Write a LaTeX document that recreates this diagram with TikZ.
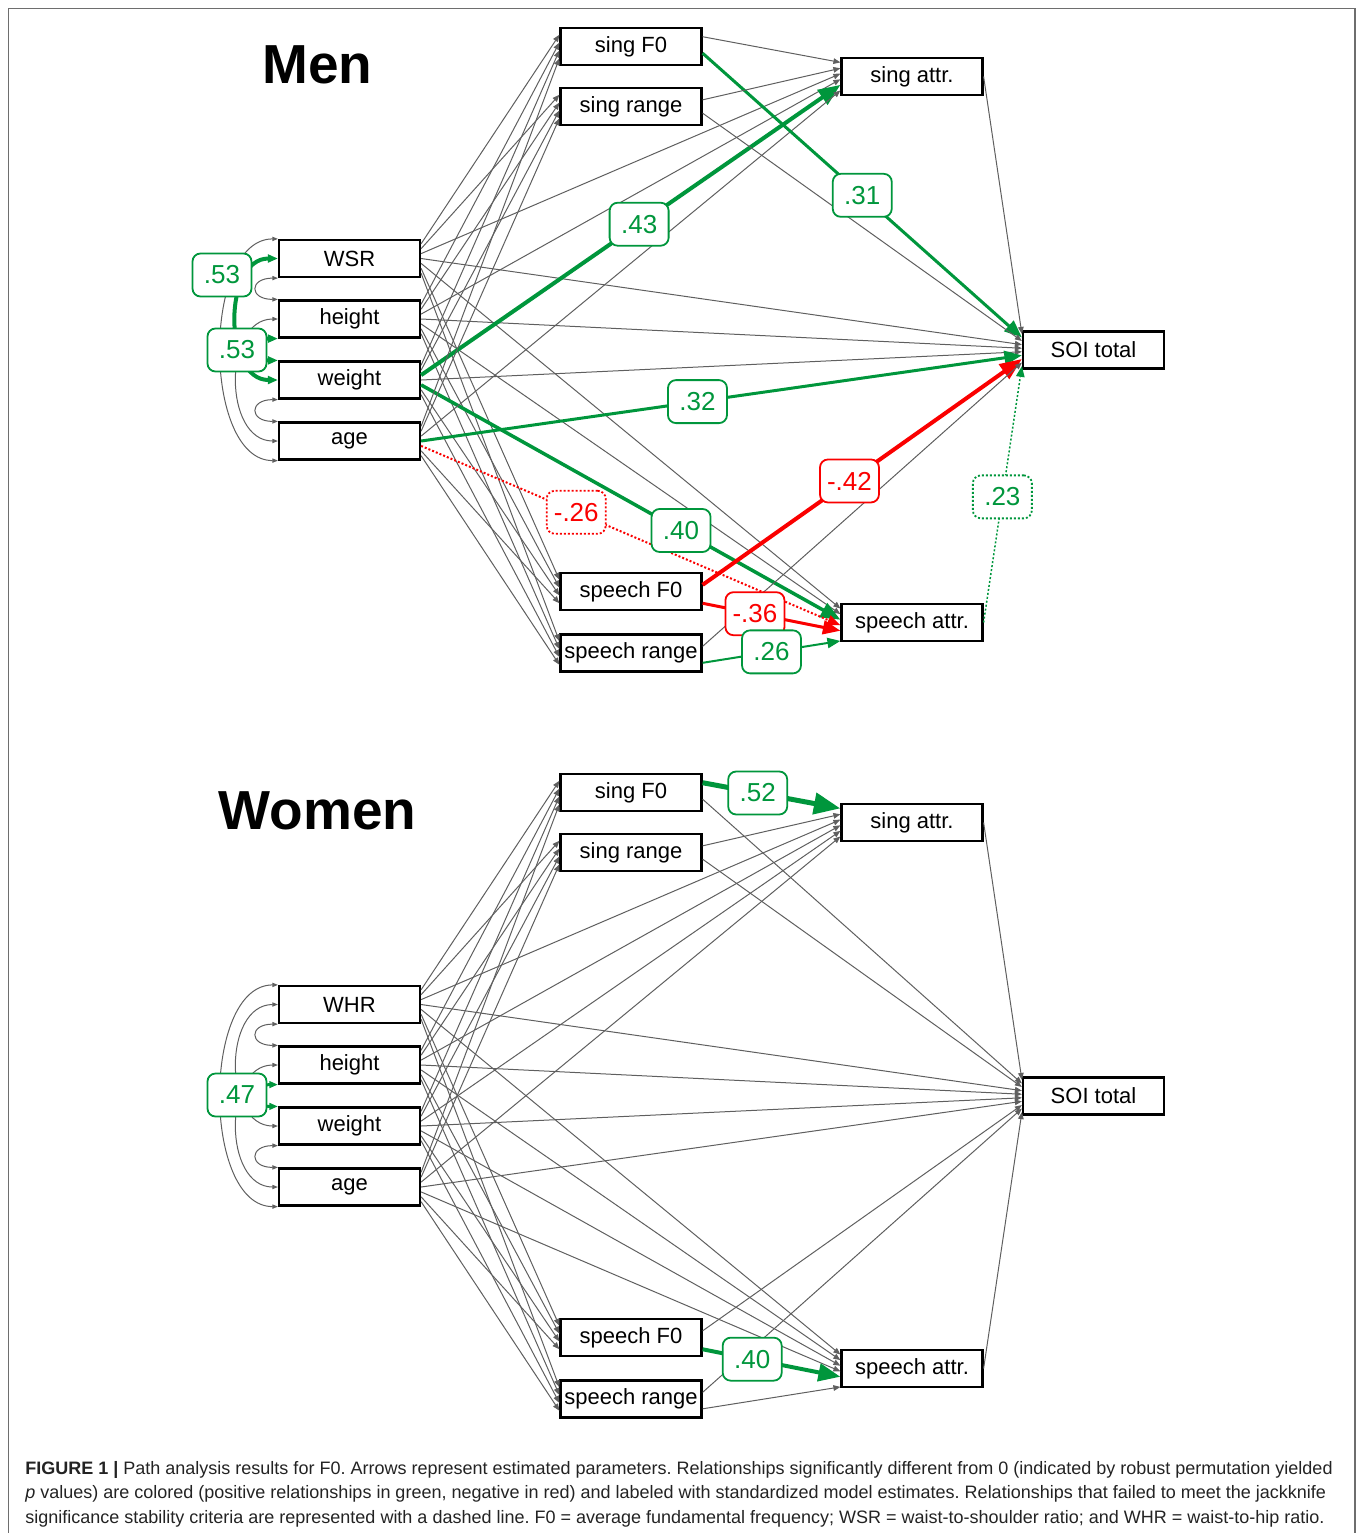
\documentclass[tikz,border=0pt]{standalone}
\usepackage{fontspec}
\setmainfont{Liberation Sans}
\usetikzlibrary{arrows.meta,calc}

\definecolor{sigGreen}{RGB}{0,150,60}
\definecolor{sigRed}{RGB}{250,0,0}
\definecolor{pathGray}{RGB}{95,95,95}
\definecolor{capGray}{RGB}{35,35,35}
\definecolor{frameGray}{RGB}{110,110,110}

\tikzset{
  var/.style={draw, line width=1.1pt, fill=white, minimum width=70.5pt, minimum height=18.5pt, inner sep=0pt, font=\fontsize{11}{13}\selectfont},
  group label/.style={font=\fontsize{27.5}{30}\selectfont\bfseries},
  path edge/.style={draw=pathGray, line width=.5pt, -{Triangle[length=3.5pt,width=2.8pt]}},
  sig/.style={draw=#1, line width=1.5pt, -{Triangle[length=2pt 4.5,width=1.5pt 3.6]}},
  cov/.style={draw=pathGray, line width=.5pt, {Triangle[length=2pt 1.5,width=1.5pt 1.2]}-{Triangle[length=2pt 1.5,width=1.5pt 1.2]}},
  est/.style={draw=#1, text=#1, fill=white, line width=.9pt, rounded corners=4pt, minimum width=29.5pt, minimum height=21.5pt, inner xsep=2pt, font=\fontsize{13}{15}\selectfont},
  dots/.style={dash pattern=on 1pt off 1pt},
  % significant paths, men
  m-weight-singA/.style={sig=sigGreen, line width=2pt, edge node={coordinate[pos=.52] (m43)}},
  m-singF0-soi/.style={sig=sigGreen, edge node={coordinate[pos=.5] (m31)}},
  m-age-soi/.style={sig=sigGreen, edge node={coordinate[pos=.46] (m32)}},
  m-weight-speechA/.style={sig=sigGreen, line width=1.75pt, edge node={coordinate[pos=.62] (m40)}},
  m-age-speechA/.style={sig=sigRed, line width=1pt, dots, edge node={coordinate[pos=.37] (m26)}},
  m-speechF0-soi/.style={sig=sigRed, line width=2pt, edge node={coordinate[pos=.46] (m42)}},
  m-speechF0-speechA/.style={sig=sigRed, edge node={coordinate[pos=.38] (m36)}},
  m-speechR-speechA/.style={sig=sigGreen, line width=1pt, edge node={coordinate[pos=.5] (m26b)}},
  m-speechA-soi/.style={sig=sigGreen, line width=.75pt, dots, edge node={coordinate[pos=.49] (m23)}},
  m-ratio-weight/.style={draw=sigGreen, line width=2pt},
  m-height-weight/.style={draw=sigGreen, line width=2pt},
  % significant paths, women
  w-singF0-singA/.style={sig=sigGreen, line width=2.5pt, edge node={coordinate[pos=.4] (w52)}},
  w-speechF0-speechA/.style={sig=sigGreen, line width=2pt, edge node={coordinate[pos=.36] (w40)}},
  w-height-weight/.style={draw=sigGreen, line width=1.5pt},
}

\begin{document}
\begin{tikzpicture}[x=.5pt, y=-.5pt]
\useasboundingbox (0,0) rectangle (1358,1533);

\draw[frameGray, line width=.8pt] (8.5,1533) -- (8.5,8.5) -- (1355,8.5) -- (1355,1533);

\foreach \grp/\dy/\rname/\sexname in {m/0/WSR/Men, w/746/WHR/Women}{
\begin{scope}[shift={(0,\dy)}]
\node[group label] (\grp-title) at (317.5,65) {\sexname};
\node[var] (\grp-ratio)  at (349.5,258.5) {\rname};
\node[var] (\grp-height) at (349.5,319) {height};
\node[var] (\grp-weight) at (349.5,380) {weight};
\node[var] (\grp-age)    at (349.5,441) {age};
\node[var] (\grp-singF0)   at (631,46.5)  {sing F0};
\node[var] (\grp-singR)    at (631,106.5) {sing range};
\node[var] (\grp-speechF0) at (631,591.5) {speech F0};
\node[var] (\grp-speechR)  at (631,653)   {speech range};
\node[var] (\grp-singA)    at (912,76.5)  {sing attr.};
\node[var] (\grp-speechA)  at (912,622.5) {speech attr.};
\node[var] (\grp-soi)      at (1093.5,350) {SOI total};
\end{scope}}

% paths
\foreach \grp in {m,w}{
\foreach \src [count=\idx] in {ratio,height,weight,age}
  \foreach \dst/\dep/\off/\nin in {singF0/1/0/5, singR/2/0/5, singA/3/2/7, soi/4/3/11, speechA/5/0/7, speechF0/6/0/5, speechR/7/0/5}
    \path ($(\grp-\src.north east)!\dep/8!(\grp-\src.south east)$) edge[path edge, \grp-\src-\dst/.try] ($(\grp-\dst.north west)!{(\idx+\off)/\nin}!(\grp-\dst.south west)$);
\foreach \src/\dst/\dep/\arr in {singF0/singA/.25/.14, singF0/soi/.67/.18, singR/singA/.33/.29, singR/soi/.67/.27, speechF0/soi/.33/.73, speechF0/speechA/.8/.71, speechR/soi/.33/.82, speechR/speechA/.75/.97, singA/soi/.5/.09, speechA/soi/.5/.91}
  \path ($(\grp-\src.north east)!\dep!(\grp-\src.south east)$) edge[path edge, \grp-\src-\dst/.try] ($(\grp-\dst.north west)!\arr!(\grp-\dst.south west)$);
}

% covariances
\foreach \grp in {m,w}
\foreach \cu/\cv/\au/\av/\bulge in {ratio/age/north west/south west/76, height/age/west/west/55, ratio/weight/west/west/55, ratio/height/south west/north west/29, height/weight/south west/north west/29, weight/age/south west/north west/29}
  \draw[cov, \grp-\cu-\cv/.try] (\grp-\cu.\au) .. controls +(-\bulge,0) and +(-\bulge,0) .. (\grp-\cv.\av);

% estimates
\node[est=sigGreen] (m-est43) at (m43) {.43};
\node[est=sigGreen] (m-est31) at (m31) {.31};
\node[est=sigGreen] (m-est32) at (m32) {.32};
\node[est=sigGreen] (m-est40) at (m40) {.40};
\node[est=sigRed, dots] (m-est26) at (m26) {-.26};
\node[est=sigRed] (m-est42) at (m42) {-.42};
\node[est=sigRed] (m-est36) at (m36) {-.36};
\node[est=sigGreen] (m-est26b) at (m26b) {.26};
\node[est=sigGreen, dots] (m-est23) at (m23) {.23};
\node[est=sigGreen] (m-est53a) at (222,275) {.53};
\node[est=sigGreen] (m-est53b) at (237,350) {.53};
\node[est=sigGreen] (w-est52) at (w52) {.52};
\node[est=sigGreen] (w-est40) at (w40) {.40};
\node[est=sigGreen] (w-est47) at (237,1095) {.47};

\node[anchor=base west, align=left, inner sep=0pt, text=capGray, font=\fontsize{9}{12.25}\selectfont\frenchspacing] (caption) at (25,1523)
{\textbf{FIGURE 1 |} Path analysis results for F0. Arrows represent estimated parameters. Relationships significantly different from 0 (indicated by robust permutation yielded\\
\textit{p} values) are colored (positive relationships in green, negative in red) and labeled with standardized model estimates. Relationships that failed to meet the jackknife\\
significance stability criteria are represented with a dashed line. F0 = average fundamental frequency; WSR = waist-to-shoulder ratio; and WHR = waist-to-hip ratio.};
\end{tikzpicture}
\end{document}
